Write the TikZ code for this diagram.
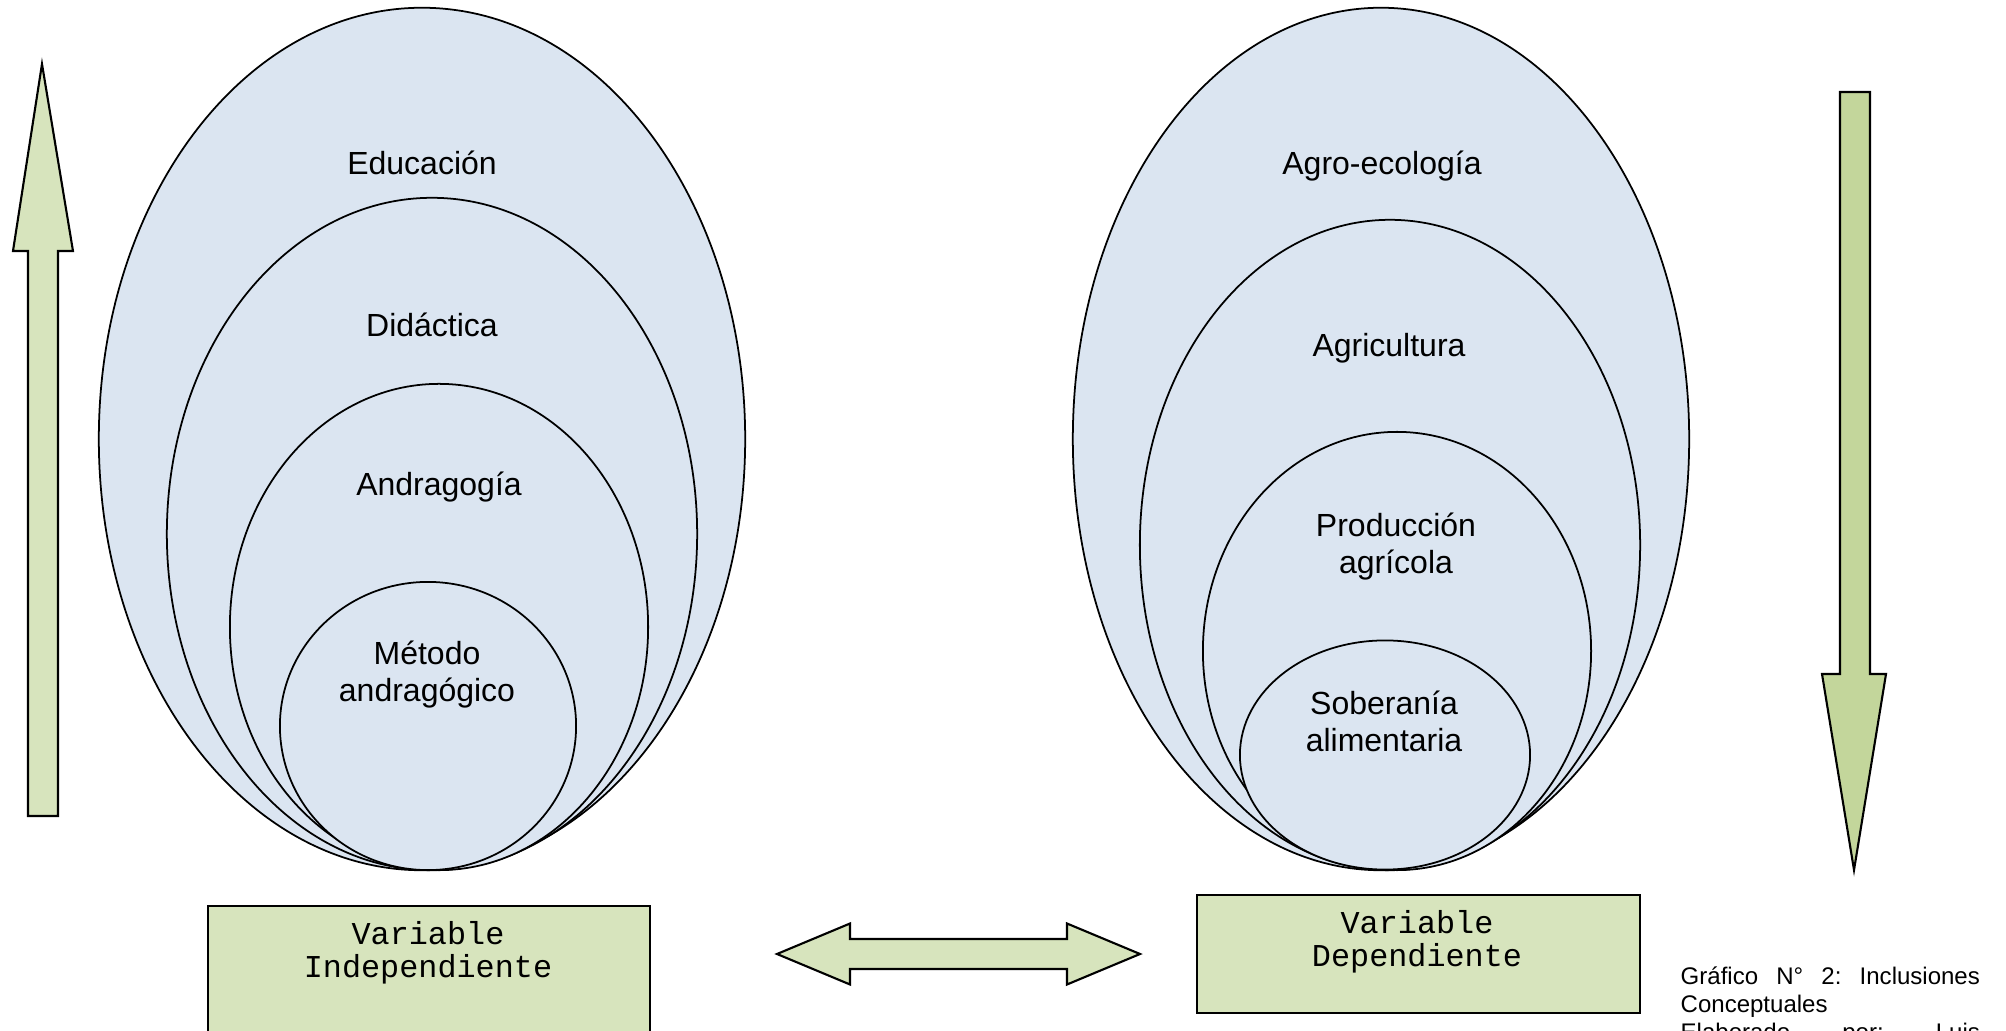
\documentclass[tikz,border=0pt]{standalone}
\usepackage{fontspec}
\setmainfont{Liberation Sans}
\setmonofont{Liberation Mono}
\usetikzlibrary{shapes.geometric,positioning}
\definecolor{azulclaro}{HTML}{DBE5F1}
\definecolor{verdeclaro}{HTML}{D7E4BD}
\definecolor{verdemedio}{HTML}{C3D69B}

\begin{document}
\begin{tikzpicture}[x=0.01cm,y=-0.01cm,
  conj/.style={draw,ellipse,fill=azulclaro,line width=0.5pt,inner sep=0pt},
  etiq/.style={align=center,inner sep=0pt,font=\fontsize{9.1}{10.5}\selectfont},
  caja/.style={draw,fill=verdeclaro,line width=0.6pt,inner sep=0pt,anchor=north west},
  cajatxt/.style={align=center,inner sep=0pt,font=\ttfamily\fontsize{9.05}{9.4}\selectfont},
  flecha/.style={draw,line width=0.6pt,line join=miter}]
  \useasboundingbox (0,0) rectangle (2006,1031);

  % variable independiente
  \node[conj, minimum width=6.46cm, minimum height=8.62cm] (edu) at (422,439) {};
  \node[conj, minimum width=5.30cm, minimum height=6.72cm] (did) at (432,534) {};
  \node[conj, minimum width=4.18cm, minimum height=4.86cm] (andra) at (439,627) {};
  \node[conj, minimum width=2.96cm, minimum height=2.88cm] (metodo) at (428,726) {};
  \node[etiq] (tedu) at (422,163) {Educación};
  \node[etiq] (tdid) at (432,325) {Didáctica};
  \node[etiq] (tandra) at (439,487) {Andragogía};
  \node[etiq] (tmetodo) at (427,675) {Método\\andragógico};

  % variable dependiente
  \node[conj, minimum width=6.16cm, minimum height=8.62cm] (agroeco) at (1381,439) {};
  \node[conj, minimum width=5.00cm, minimum height=6.50cm] (agri) at (1390,545) {};
  \node[conj, minimum width=3.88cm, minimum height=4.38cm] (prod) at (1397,651) {};
  \node[conj, minimum width=2.90cm, minimum height=2.29cm] (sober) at (1385,755) {};
  \node[etiq] (tagroeco) at (1382,166) {Agro-ecología};
  \node[etiq] (tagri) at (1389,348) {Agricultura};
  \node[etiq] (tprod) at (1396,547) {Producción\\agrícola};
  \node[etiq] (tsober) at (1384,721) {Soberanía\\alimentaria};

  % cajas
  \node[caja, minimum width=4.42cm, minimum height=1.6cm] (vi) at (207,905) {};
  \node[cajatxt] (tvi) at (428,953) {Variable\\Independiente};
  \node[caja, minimum width=4.43cm, minimum height=1.18cm] (vd) at (1196,894) {};
  \node[cajatxt] (tvd) at (1417,942) {Variable\\Dependiente};

  % flechas
  \draw[flecha,fill=verdeclaro] (42,64) -- (73,251) -- (58,251) -- (58,816)
    -- (28,816) -- (28,251) -- (13,251) -- cycle;
  \draw[flecha,fill=verdemedio] (1840,92) -- (1870,92) -- (1870,674) -- (1886,674)
    -- (1854,870) -- (1822,674) -- (1840,674) -- cycle;
  \draw[flecha,fill=verdeclaro] (777,954) -- (850,923.5) -- (850,939) -- (1067,939)
    -- (1067,923.5) -- (1140,954) -- (1067,984.5) -- (1067,969) -- (850,969)
    -- (850,984.5) -- cycle;

  % pie
  \node[anchor=north west,inner sep=0pt,text width=2.99cm,align=left,
    font=\fontsize{6.83}{8}\selectfont] (pie) at (1680,966)
    {\makebox[2.99cm][l]{Gráfico\hfill N°\hfill 2:\hfill Inclusiones}\\Conceptuales\\
     \makebox[2.99cm][l]{Elaborado\hfill por:\hfill Luis}};
\end{tikzpicture}
\end{document}
